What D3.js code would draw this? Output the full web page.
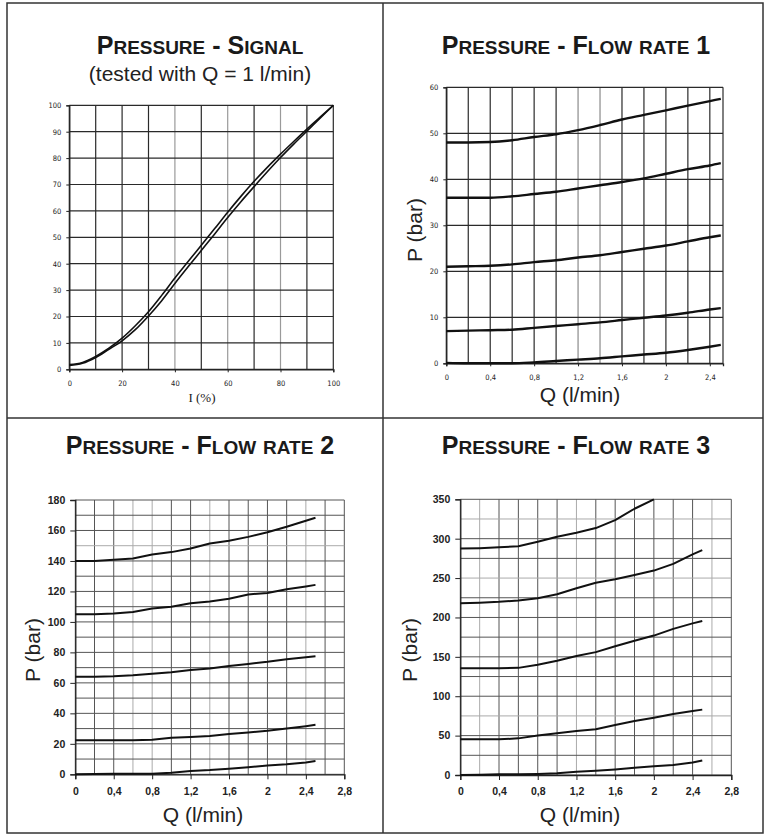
<!DOCTYPE html>
<html>
<head>
<meta charset="utf-8">
<script src="https://cdn.jsdelivr.net/npm/d3@7"></script>
<style>
  body { margin: 0; background: #fff; }
  svg { display: block; }
</style>
</head>
<body>
<div id="chart"></div>
<script>
// --- data ---
var signalI = [0, 5, 10, 15, 20, 25, 30, 35, 40, 45, 50, 55, 60, 65, 70, 75, 80, 85, 90, 95, 100]
var signalUp = [1.8, 2.6, 4.9, 8, 11.8, 16.5, 21.8, 28, 34.6, 40.8, 47, 53.2, 59.5, 65.5, 71.2, 76.5, 81.5, 86.3, 91, 95.5, 100]
var signalDown = [1.5, 2.3, 4.5, 7.6, 10.8, 15, 20.2, 26, 32.5, 38.8, 45, 51.2, 57.5, 63.5, 69.2, 74.8, 80.2, 85.3, 90.2, 95.1, 100]

var flowQ = [0, 0.2, 0.4, 0.6, 0.8, 1.0, 1.2, 1.4, 1.6, 1.8, 2.0, 2.2, 2.4, 2.5]

var flow1 = [
    [48, 48, 48.1, 48.5, 49.2, 49.8, 50.7, 51.8, 53, 54, 55, 56, 57, 57.5],
    [36, 36, 36, 36.3, 36.8, 37.3, 38, 38.7, 39.4, 40.2, 41.2, 42.2, 43, 43.5],
    [21, 21.1, 21.2, 21.5, 22, 22.4, 23, 23.5, 24.2, 24.9, 25.6, 26.5, 27.4, 27.8],
    [7, 7.1, 7.2, 7.3, 7.7, 8.1, 8.5, 8.9, 9.4, 9.9, 10.4, 11, 11.7, 12],
    [0.1, 0, 0, 0, 0.2, 0.5, 0.8, 1.1, 1.5, 1.9, 2.3, 2.9, 3.6, 4]
]
var flow2 = [
    [140, 140, 140.8, 141.6, 144.2, 145.8, 148.2, 151.4, 153.2, 155.8, 158.8, 162.4, 166.4, 168.3],
    [105, 105, 105.5, 106.5, 108.8, 110, 112.2, 113.4, 115.2, 118, 119, 121.4, 123.3, 124.3],
    [64, 64, 64.3, 65, 66, 66.9, 68.4, 69.5, 71, 72.4, 73.8, 75.5, 76.8, 77.4],
    [22.4, 22.4, 22.4, 22.4, 22.7, 24, 24.5, 25.2, 26.4, 27.5, 28.6, 30, 31.6, 32.5],
    [0, 0.2, 0.4, 0.4, 0.4, 1, 2.2, 2.8, 3.7, 4.7, 5.7, 6.6, 7.8, 8.7]
]
var flow3 = [
    [287.5, 288, 289, 290.5, 296, 302.5, 307.5, 313.5, 323.5, 338, 350, null, null, null],
    [218, 218.8, 219.8, 221.5, 224.5, 229.5, 237, 244, 248.5, 254, 259.5, 268, 280, 285.5],
    [135.4, 135.4, 135.4, 136, 140, 145, 151, 156, 163.5, 170.5, 177, 185.5, 192.5, 195.5],
    [45.3, 45.3, 45.3, 46.5, 50, 53, 56, 58, 63.5, 68.5, 72.8, 77.4, 81.3, 83],
    [0, 0.3, 0.8, 1, 1.3, 2.1, 4, 5.3, 7, 9.2, 11, 12.7, 15.8, 18.5]
]

var signalTicks = [0, 20, 40, 60, 80, 100]
var flow1XTicks = [0, 0.4, 0.8, 1.2, 1.6, 2, 2.4]
var flowXTicks = [0, 0.4, 0.8, 1.2, 1.6, 2, 2.4, 2.8]

// --- layout ---
var W = 765, H = 834

var svg = d3.select('#chart').append('svg')
    .attr('width', W)
    .attr('height', H)

var comma = function(d) { return d3.format('~g')(d).replace('.', ',') }

// frame
var frame = svg.append('g')
    .attr('fill', 'none')
    .attr('stroke', '#333')
    .attr('stroke-width', 1.5)
frame.append('rect').attr('x', 7).attr('y', 3).attr('width', 756).attr('height', 830)
frame.append('line').attr('x1', 383).attr('x2', 383).attr('y1', 3).attr('y2', 833)
frame.append('line').attr('x1', 7).attr('x2', 763).attr('y1', 418).attr('y2', 418)

function title(x, y, str, big, small) {
    var t = svg.append('text')
        .attr('x', x).attr('y', y)
        .attr('text-anchor', 'middle')
        .attr('font-family', 'Liberation Sans, Arial, sans-serif')
        .attr('font-weight', 'bold')
        .attr('fill', '#1a1a1a')
    // small caps by hand: lowercase letters drawn as smaller capitals
    var runs = []
    str.split('').forEach(function(c) {
        var isSmall = c !== c.toUpperCase()
        var last = runs[runs.length - 1]
        if (last && last.small === isSmall) last.s += c
        else runs.push({ small: isSmall, s: c })
    })
    runs.forEach(function(r) {
        t.append('tspan')
            .attr('font-size', r.small ? small : big)
            .text(r.s.toUpperCase())
    })
    return t
}

function panel(cfg) {
    var x = d3.scaleLinear().domain(cfg.xDomain).range(cfg.xRange)
    var y = d3.scaleLinear().domain(cfg.yDomain).range(cfg.yRange)
    var g = svg.append('g')

    // grid
    var grid = g.append('g')
    grid.selectAll('.vg').data(cfg.xGrid).enter().append('line')
        .attr('x1', function(d) { return x(d) }).attr('x2', function(d) { return x(d) })
        .attr('y1', y.range()[0]).attr('y2', y.range()[1])
        .attr('stroke', function(d, i) { return cfg.lightX(i) ? cfg.light : cfg.dark })
        .attr('stroke-width', cfg.gridWidth)
    grid.selectAll('.hg').data(cfg.yGrid).enter().append('line')
        .attr('y1', function(d) { return y(d) }).attr('y2', function(d) { return y(d) })
        .attr('x1', x.range()[0]).attr('x2', x.range()[1])
        .attr('stroke', function(d, i) { return cfg.lightY(i) ? cfg.light : cfg.dark })
        .attr('stroke-width', cfg.gridWidth)

    // axes
    var ax = g.append('g')
        .attr('transform', 'translate(0,' + y.range()[0] + ')')
        .call(d3.axisBottom(x).tickValues(cfg.xTicks).tickFormat(cfg.fmt).tickSize(cfg.tick).tickPadding(cfg.xPad))
    var ay = g.append('g')
        .attr('transform', 'translate(' + x.range()[0] + ',0)')
        .call(d3.axisLeft(y).tickValues(cfg.yTicks).tickFormat(cfg.fmt).tickSize(cfg.tick).tickPadding(cfg.yPad))
    ;[ax, ay].forEach(function(a) {
        a.select('.domain').attr('stroke', '#222').attr('stroke-width', 1.3)
        a.selectAll('.tick line').attr('stroke', '#222')
        a.selectAll('text')
            .attr('font-family', cfg.tickFont)
            .attr('font-size', cfg.tickSize)
            .attr('font-weight', cfg.tickWeight)
            .attr('fill', '#222')
    })

    // curves
    var line = d3.line()
        .defined(function(d) { return d[1] != null })
        .x(function(d) { return x(d[0]) })
        .y(function(d) { return y(d[1]) })
        .curve(cfg.curve)
    g.selectAll('.curve').data(cfg.series).enter().append('path')
        .attr('d', line)
        .attr('fill', 'none')
        .attr('stroke', '#111')
        .attr('stroke-width', cfg.lineWidth)
        .attr('stroke-linejoin', 'round')

    // axis titles
    if (cfg.xLabel) {
        g.append('text')
            .attr('x', cfg.xLabel.x).attr('y', cfg.xLabel.y)
            .attr('text-anchor', 'middle')
            .attr('font-family', cfg.xLabel.font)
            .attr('font-size', cfg.xLabel.size)
            .attr('fill', '#222')
            .text(cfg.xLabel.text)
    }
    if (cfg.yLabel) {
        g.append('text')
            .attr('transform', 'translate(' + cfg.yLabel.x + ',' + cfg.yLabel.y + ') rotate(-90)')
            .attr('text-anchor', 'middle')
            .attr('font-family', 'Liberation Sans, Arial, sans-serif')
            .attr('font-size', 21)
            .attr('fill', '#222')
            .text(cfg.yLabel.text)
    }
}

function pairs(xs, ys) {
    return xs.map(function(v, i) { return [v, ys[i]] })
}

var narrow = 'Liberation Sans Narrow, DejaVu Sans Condensed, Arial, sans-serif'
var sans = 'Liberation Sans, Arial, sans-serif'

// 1. Pressure - Signal
title(200, 54, 'Pressure - Signal', 25, 19)
svg.append('text')
    .attr('x', 200).attr('y', 81)
    .attr('text-anchor', 'middle')
    .attr('font-family', sans)
    .attr('font-size', 21)
    .attr('fill', '#222')
    .text('(tested with Q = 1 l/min)')

panel({
    xDomain: [0, 100], xRange: [69.3, 333.3],
    yDomain: [0, 100], yRange: [369.3, 105.3],
    xGrid: d3.range(0, 101, 10), yGrid: d3.range(0, 101, 10),
    lightX: function(i) { return i === 4 || i === 6 || i === 8 },
    lightY: function(i) { return false },
    dark: '#2a2a2a', light: '#9a9a9a', gridWidth: 1.2,
    xTicks: signalTicks, yTicks: d3.range(0, 101, 10),
    fmt: d3.format('d'), tick: 3, xPad: 8, yPad: 5,
    tickFont: narrow, tickSize: 7.5, tickWeight: 'normal',
    series: [pairs(signalI, signalUp), pairs(signalI, signalDown)],
    curve: d3.curveMonotoneX, lineWidth: 1.6,
    xLabel: { x: 202, y: 402, text: 'I (%)', size: 13, font: 'Liberation Serif, serif' }
})

// 2. Pressure - Flow rate 1
title(576, 54, 'Pressure - Flow rate 1', 25, 19)
panel({
    xDomain: [0, 2.52], xRange: [446.3, 723],
    yDomain: [0, 60], yRange: [363.3, 87.3],
    xGrid: d3.range(0, 2.41, 0.2).concat([2.52]), yGrid: d3.range(0, 61, 10),
    lightX: function(i) { return i === 6 || i === 7 },
    lightY: function(i) { return false },
    dark: '#2a2a2a', light: '#8a8a8a', gridWidth: 1.2,
    xTicks: flow1XTicks, yTicks: d3.range(0, 61, 10),
    fmt: comma, tick: 3, xPad: 8, yPad: 5,
    tickFont: narrow, tickSize: 7.5, tickWeight: 'normal',
    series: flow1.map(function(s) { return pairs(flowQ, s) }),
    curve: d3.curveMonotoneX, lineWidth: 2.4,
    xLabel: { x: 580, y: 402, text: 'Q (l/min)', size: 21, font: sans },
    yLabel: { x: 422, y: 230, text: 'P (bar)' }
})

// 3. Pressure - Flow rate 2
title(200, 454, 'Pressure - Flow rate 2', 25, 19)
panel({
    xDomain: [0, 2.8], xRange: [75.3, 344.3],
    yDomain: [0, 180], yRange: [774.3, 500],
    xGrid: d3.range(0, 2.81, 0.2), yGrid: d3.range(0, 181, 10),
    lightX: function(i) { return i === 3 || i === 4 || i === 7 || i === 12 },
    lightY: function(i) { return i === 15 },
    dark: '#555', light: '#aaa', gridWidth: 1,
    xTicks: flowXTicks, yTicks: d3.range(0, 181, 20),
    fmt: comma, tick: 5, xPad: 8, yPad: 5,
    tickFont: sans, tickSize: 10.5, tickWeight: 'bold',
    series: flow2.map(function(s) { return pairs(flowQ, s) }),
    curve: d3.curveLinear, lineWidth: 2,
    xLabel: { x: 203, y: 822, text: 'Q (l/min)', size: 21, font: sans },
    yLabel: { x: 40, y: 650, text: 'P (bar)' }
})

// 4. Pressure - Flow rate 3
title(576, 454, 'Pressure - Flow rate 3', 25, 19)
panel({
    xDomain: [0, 2.8], xRange: [460.3, 731.3],
    yDomain: [0, 350], yRange: [775, 499.3],
    xGrid: d3.range(0, 2.81, 0.2), yGrid: d3.range(0, 351, 25),
    lightX: function(i) { return i === 1 || i === 6 || i === 13 },
    lightY: function(i) { return i === 13 || i === 10 || i === 3 },
    dark: '#555', light: '#aaa', gridWidth: 1,
    xTicks: flowXTicks, yTicks: d3.range(0, 351, 50),
    fmt: comma, tick: 5, xPad: 8, yPad: 5,
    tickFont: sans, tickSize: 10.5, tickWeight: 'bold',
    series: flow3.map(function(s) { return pairs(flowQ, s) }),
    curve: d3.curveLinear, lineWidth: 2,
    xLabel: { x: 580, y: 822, text: 'Q (l/min)', size: 21, font: sans },
    yLabel: { x: 417, y: 650, text: 'P (bar)' }
})
</script>
</body>
</html>
